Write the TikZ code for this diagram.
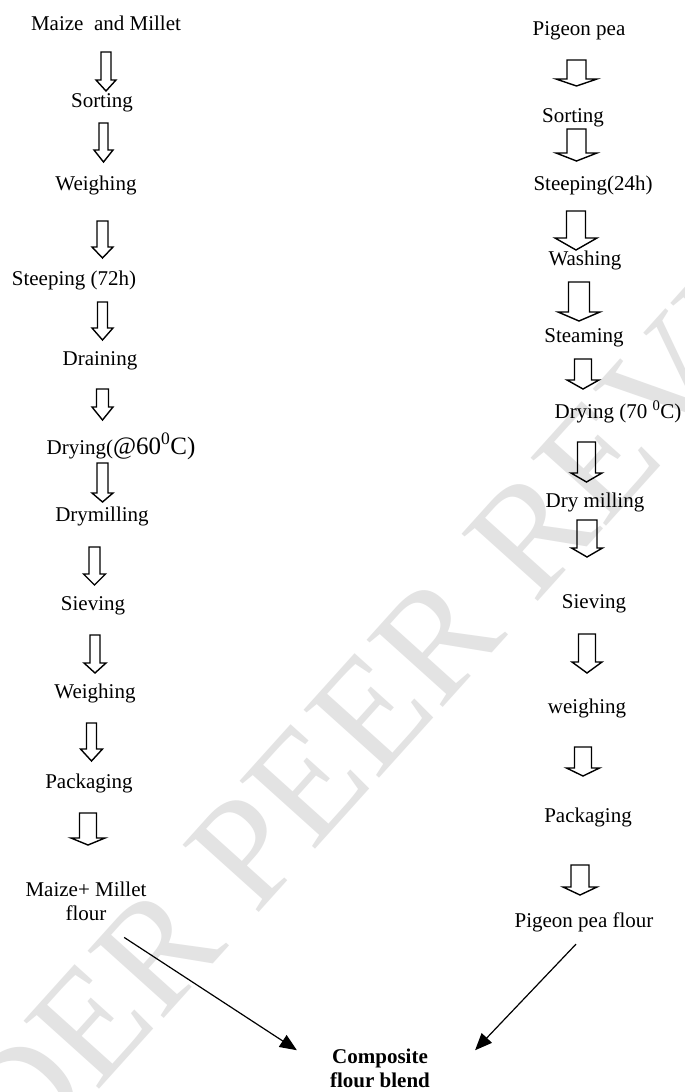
\documentclass[tikz,border=0pt]{standalone}
\usepackage{fontspec}
\setmainfont{Liberation Serif}
\usetikzlibrary{positioning,arrows,arrows.meta}
\tikzset{stage/.style={anchor=base, inner sep=0pt, font=\fontsize{21}{24}\selectfont},
  blockline/.style={draw, line width=1.4pt, line join=miter},
  mixarrow/.style={-{Triangle[length=17pt,width=14pt]}, line width=1.2pt}}
% hollow down arrow: name, top, head start, length, half shaft, half head
\newcommand{\flowarrow}[6]{\coordinate (#1) at #2;
  \draw[blockline] ([xshift=-#5pt]#1) -- ++(2*#5,0) -- ++(0,#3) -- ++(#6-#5,0)
    -- ++(-#6,#4-#3) -- ++(-#6,#3-#4) -- ++(#6-#5,0) -- cycle;}

\begin{document}
\begin{tikzpicture}[x=1pt,y=-1pt]
\useasboundingbox (0,0) rectangle (685,1092);
\clip (0,0) rectangle (685,1092);
\fill[white] (0,0) rectangle (685,1092);
\node[rotate=48, anchor=base, text=gray!22, font=\fontsize{155}{155}\selectfont] (mark) at (405,750) {UNDER PEER REVIEW};

% maize and millet
\node[stage] (lraw) at (106,30) {Maize\ \ and Millet};
\node[stage] (lsort) at (102,107) {Sorting};
\node[stage] (lweigh) at (96,190) {Weighing};
\node[stage] (lsteep) at (74,285) {Steeping (72h)};
\node[stage] (ldrain) at (100,365) {Draining};
\node[stage] (ldry) at (121,454) {Drying(\fontsize{25}{28}\selectfont @60\textsuperscript{0}C)};
\node[stage] (lmill) at (102,521) {Drymilling};
\node[stage] (lsieve) at (93,610) {Sieving};
\node[stage] (lweightwo) at (95,698) {Weighing};
\node[stage] (lpack) at (89,788) {Packaging};
\node[stage, align=center] (mmflour) at (86,920) {Maize+ Millet\\flour};

\flowarrow{la1}{(106,52)}{28}{39}{5}{10}
\flowarrow{la2}{(103.5,123)}{27}{39}{4.5}{9.5}
\flowarrow{la3}{(102.5,221)}{26}{37}{5.5}{10.5}
\flowarrow{la4}{(102.5,302)}{26}{38}{5}{10.5}
\flowarrow{la5}{(102.5,389)}{18}{31}{6}{10.5}
\flowarrow{la6}{(102.5,463)}{30}{39}{5.5}{10.5}
\flowarrow{la7}{(94.5,547)}{27}{38}{5.5}{11}
\flowarrow{la8}{(95,635)}{28}{38}{5}{11}
\flowarrow{la9}{(91.5,723)}{26}{38}{5}{11}
\flowarrow{la10}{(88,813)}{25}{32}{8.5}{17}

% pigeon pea
\node[stage] (rraw) at (579,35) {Pigeon pea};
\node[stage] (rsort) at (573,122) {Sorting};
\node[stage] (rsteep) at (593,190) {Steeping(24h)};
\node[stage] (rwash) at (585,265) {Washing};
\node[stage] (rsteam) at (584,342) {Steaming};
\node[stage] (rdry) at (618,418) {Drying (70 \textsuperscript{0}C)};
\node[stage] (rmill) at (595,507) {Dry milling};
\node[stage] (rsieve) at (594,608) {Sieving};
\node[stage] (rweigh) at (587,713) {weighing};
\node[stage] (rpack) at (588,822) {Packaging};
\node[stage] (ppflour) at (584,927) {Pigeon pea flour};

\flowarrow{ra1}{(576.5,60)}{19}{26}{9.5}{20.5}
\flowarrow{ra2}{(576.5,129)}{24}{32}{9.5}{20.5}
\flowarrow{ra3}{(576,211)}{27}{39}{9.5}{21}
\flowarrow{ra4}{(579,282)}{30}{39}{10.5}{21}
\flowarrow{ra5}{(583,359)}{21}{30}{8.5}{16}
\flowarrow{ra6}{(586.5,442)}{31}{40}{9}{15.5}
\flowarrow{ra7}{(587,520)}{28}{37}{10}{15.5}
\flowarrow{ra8}{(587,634)}{28}{39}{8.5}{15}
\flowarrow{ra9}{(583,747)}{21}{29}{8.5}{16.5}
\flowarrow{ra10}{(580,865)}{22}{30}{9}{17}

\node[stage, align=center, font=\fontsize{21}{24}\selectfont\bfseries] (blend) at (380,1087) {Composite\\flour blend};
\draw[mixarrow] ([shift={(-22.5,17)}]mmflour.south east) -- ([shift={(-33,2)}]blend.north west);
\draw[mixarrow] ([shift={(-8,12.4)}]ppflour.south) -- ([shift={(45,2)}]blend.north east);
\end{tikzpicture}
\end{document}
